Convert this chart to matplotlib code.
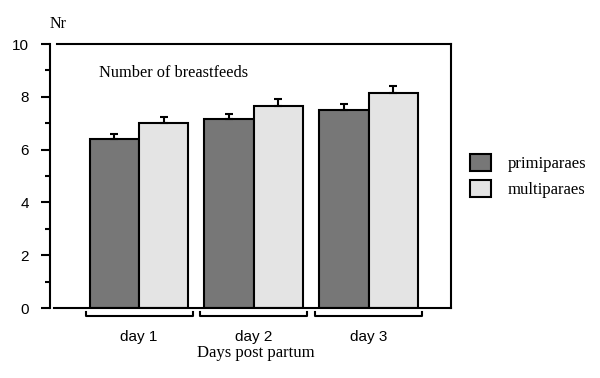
import numpy as np
import matplotlib.pyplot as plt
from matplotlib.patches import Patch

# values
days = ['day 1', 'day 2', 'day 3']
primiparaes = [6.39, 7.15, 7.49]
primiparaes_err = [0.21, 0.20, 0.23]
multiparaes = [7.01, 7.65, 8.13]
multiparaes_err = [0.22, 0.27, 0.27]

serif = ['Liberation Serif', 'DejaVu Serif']
sans = ['Liberation Sans', 'DejaVu Sans']
dark, light = '#777777', '#e4e4e4'

fig = plt.figure(figsize=(6, 3.78), dpi=100)
ax = fig.add_axes([50 / 600, 1 - 308 / 378, 401 / 600, 264 / 378])

x = np.arange(len(days))
w = 0.431
err_kw = dict(elinewidth=1.5, capthick=1.5, capsize=3.2, ecolor='black')
ax.bar(x - w / 2, primiparaes, w, color=dark, edgecolor='black', linewidth=1.5,
       yerr=[np.zeros(3), primiparaes_err], error_kw=err_kw, zorder=2)
ax.bar(x + w / 2, multiparaes, w, color=light, edgecolor='black', linewidth=1.5,
       yerr=[np.zeros(3), multiparaes_err], error_kw=err_kw, zorder=2)

ax.set_xlim(-0.776, 2.719)
ax.set_ylim(0, 10)

# frame: top and bottom lines stop short of the y axis
for s in ['top', 'bottom']:
    ax.spines[s].set_visible(False)
ax.spines['left'].set_linewidth(1.5)
ax.spines['right'].set_linewidth(1.5)
ax.plot([0.0175, 1], [1, 1], color='black', lw=1.5, transform=ax.transAxes, clip_on=False)
ax.plot([0.01, 1], [0, 0], color='black', lw=1.5, transform=ax.transAxes, clip_on=False)

ax.set_yticks(np.arange(0, 11, 2))
ax.set_yticks(np.arange(1, 10, 2), minor=True)
ax.tick_params(axis='y', which='major', length=6.5, width=1.5, pad=8.5, labelsize=11)
ax.tick_params(axis='y', which='minor', length=3.6, width=1.5)
for lab in ax.get_yticklabels():
    lab.set_family(sans)

ax.set_xticks(x)
ax.set_xticklabels(days, family=sans, fontsize=11)
ax.tick_params(axis='x', length=0, pad=16)

# brackets under each day group
tr = ax.get_xaxis_transform()
hw = 0.466
for xi in x:
    ax.plot([xi - hw, xi - hw, xi + hw, xi + hw], [-0.014, -0.029, -0.029, -0.014],
            color='black', lw=1.5, transform=tr, clip_on=False)

ax.set_xlabel('Days post partum', family=serif, fontsize=12, va='center')
ax.xaxis.set_label_coords((256 - 50) / 401, (308 - 353) / 264)

ax.text(0, 1.06, 'Nr', transform=ax.transAxes, family=serif, fontsize=11.5, va='baseline')
ax.text((99 - 50) / 401, 0.875, 'Number of breastfeeds', transform=ax.transAxes,
        family=serif, fontsize=11.8, va='baseline')

handles = [Patch(facecolor=dark, edgecolor='black', linewidth=1.5),
           Patch(facecolor=light, edgecolor='black', linewidth=1.5)]
fig.legend(handles, ['primiparaes', 'multiparaes'], loc='upper left',
           bbox_to_anchor=(455 / 600, 1 - 139 / 378), frameon=False,
           prop={'family': serif, 'size': 12}, handlelength=1.26, handleheight=1.2,
           handletextpad=1.0, labelspacing=0.48)

fig.savefig('out.png', dpi=100)
